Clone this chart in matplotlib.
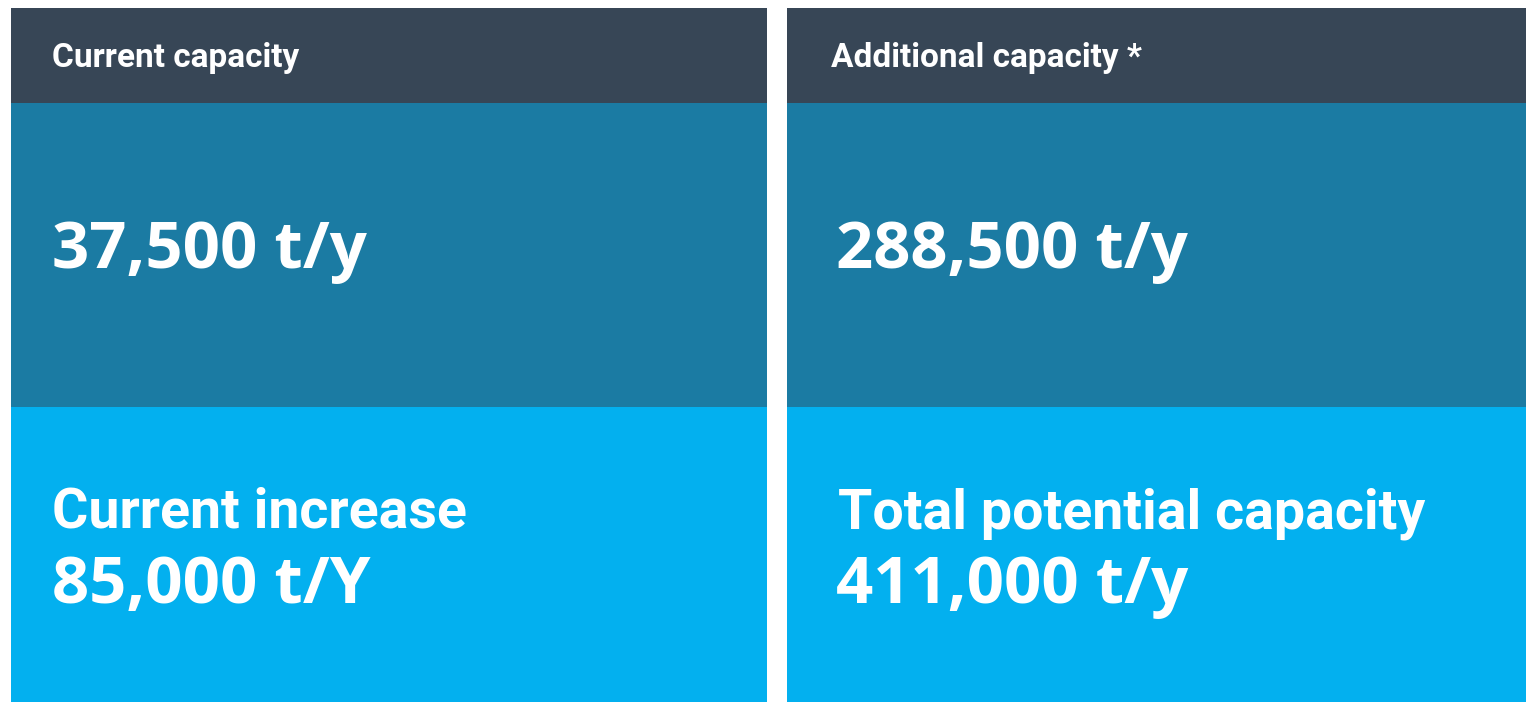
import matplotlib
matplotlib.use("Agg")
import matplotlib.pyplot as plt
from matplotlib.patches import Rectangle

W, H = 1526, 702

headers = ["Current capacity", "Additional capacity *"]
values = ["37,500 t/y", "288,500 t/y"]
bottom_labels = ["Current increase", "Total potential capacity"]
bottom_values = ["85,000 t/Y", "411,000 t/y"]

panel_x = [11, 787]
panel_w = [756, 739]
text_x = [[52, 52, 52, 52], [831, 836, 838, 836]]

c_head = "#374656"
c_mid = "#1b7ba3"
c_low = "#03b0ef"

fig = plt.figure(figsize=(W / 100, H / 100), dpi=100)
ax = fig.add_axes([0, 0, 1, 1])
ax.set_xlim(0, W)
ax.set_ylim(H, 0)
ax.axis("off")

word_font = "Roboto"
num_font = "Open Sans"

for i in range(2):
    x0 = panel_x[i]
    w = panel_w[i]
    ax.add_patch(Rectangle((x0, 8), w, 95, color=c_head, lw=0))
    ax.add_patch(Rectangle((x0, 103), w, 304, color=c_mid, lw=0))
    ax.add_patch(Rectangle((x0, 407), w, H - 407, color=c_low, lw=0))

    tx = text_x[i]
    ax.text(tx[0], 67, headers[i], color="white", fontsize=24, fontweight="bold",
            family=word_font, va="baseline", ha="left")
    ax.text(tx[1], 268, values[i], color="white", fontsize=47, fontweight="bold",
            family=num_font, va="baseline", ha="left")
    ax.text(tx[2], 528, bottom_labels[i], color="white", fontsize=40, fontweight="bold",
            family=word_font, va="baseline", ha="left")
    ax.text(tx[3], 603, bottom_values[i], color="white", fontsize=47, fontweight="bold",
            family=num_font, va="baseline", ha="left")

fig.savefig("out.png", dpi=100)
